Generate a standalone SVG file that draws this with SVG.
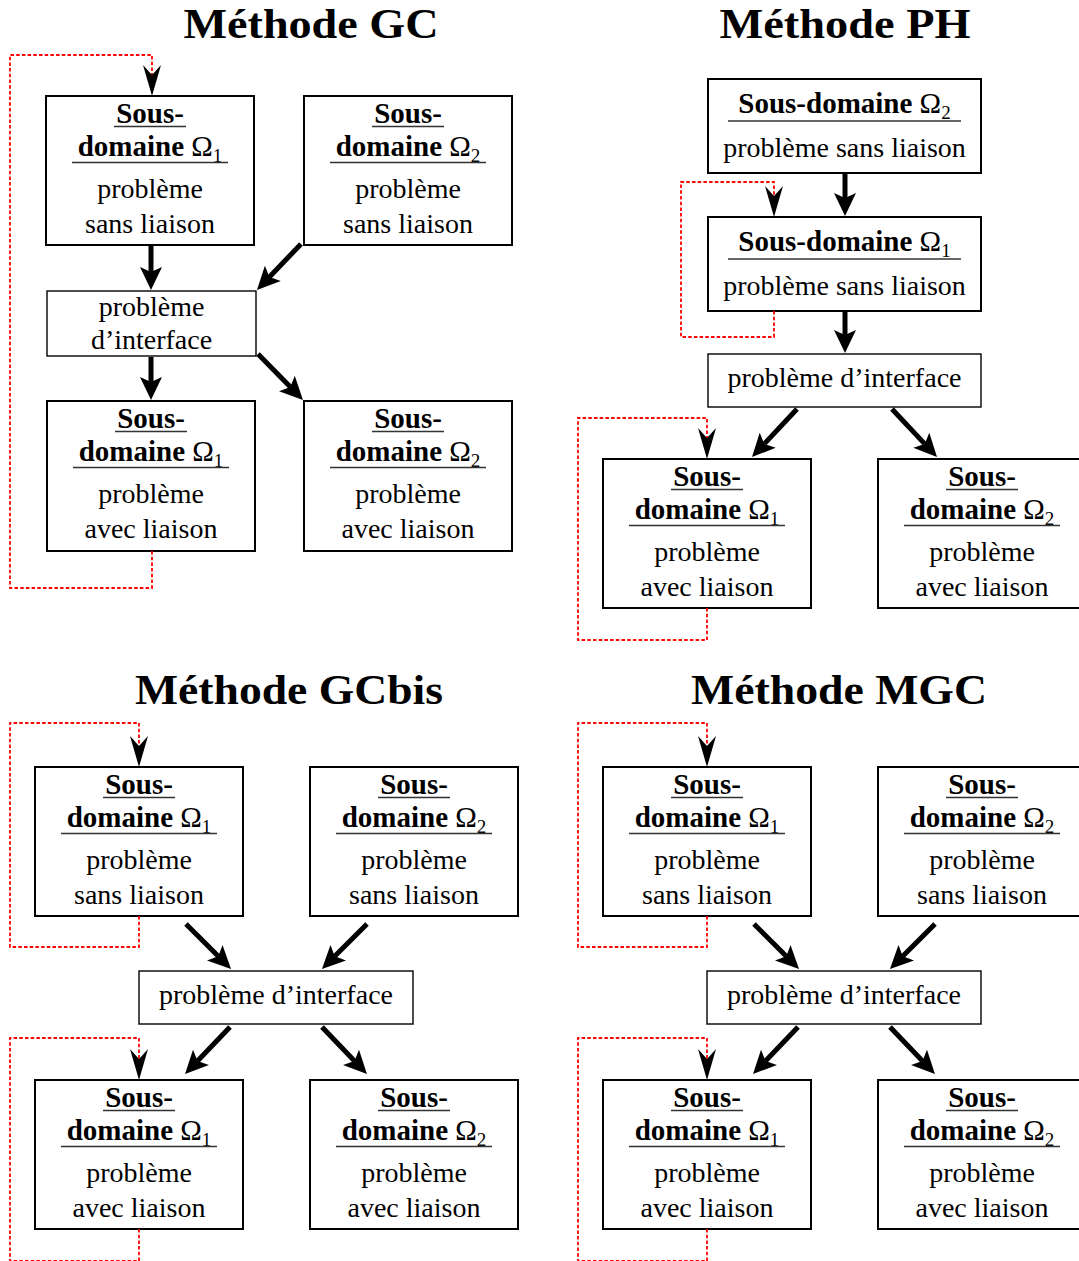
<svg xmlns="http://www.w3.org/2000/svg" width="1079" height="1261" viewBox="0 0 1079 1261">
<style>
.box{fill:#fff;stroke:#000;stroke-width:2}
.ifb{fill:#fff;stroke:#000;stroke-width:1.4}
.ul{stroke:#333;stroke-width:1.3}
.t{font-family:"Liberation Serif",serif;font-weight:bold;font-size:42px;text-anchor:middle}
.b{font-family:"Liberation Serif",serif;font-weight:bold;font-size:29px;text-anchor:middle}
.r{font-family:"Liberation Serif",serif;font-size:28px;text-anchor:middle}
.m{font-weight:normal}
.s{font-weight:normal;font-size:19px}
.arr{stroke:#000;stroke-width:5;fill:none;marker-end:url(#ah)}
.loop{stroke:#f00;stroke-width:1.8;stroke-dasharray:3.5 2.2;fill:none;marker-end:url(#sh)}
</style>
<defs>
<marker id="ah" markerUnits="userSpaceOnUse" orient="auto" refX="0" refY="0" markerWidth="40" markerHeight="40" overflow="visible">
<path d="M18,0 L-5,-11 L0,0 L-5,11 Z" fill="#000" stroke="none"/>
</marker>
<marker id="sh" markerUnits="userSpaceOnUse" orient="auto" refX="0" refY="0" markerWidth="40" markerHeight="40" overflow="visible">
<path d="M21,0 L-10,-9 L0,0 L-10,9 Z" fill="#000" stroke="none"/>
</marker>
</defs>
<rect width="1079" height="1261" fill="#fff"/>

<!-- Titles -->
<g id="titles">
<text class="t" x="311" y="38" textLength="255" lengthAdjust="spacingAndGlyphs">Méthode GC</text>
<text class="t" x="845" y="38" textLength="251" lengthAdjust="spacingAndGlyphs">Méthode PH</text>
<text class="t" x="289" y="704" textLength="308" lengthAdjust="spacingAndGlyphs">Méthode GCbis</text>
<text class="t" x="839" y="704" textLength="296" lengthAdjust="spacingAndGlyphs">Méthode MGC</text>
</g>

<!-- ===== Méthode GC ===== -->
<g id="gc-sd1-sans">
<rect class="box" x="46" y="96" width="208" height="149"/>
<text class="b" x="150" y="123">Sous-</text>
<line class="ul" x1="114" y1="126.5" x2="186" y2="126.5"/>
<text class="b" x="150" y="156">domaine <tspan class="m">Ω</tspan><tspan class="s" dy="6">1</tspan></text>
<line class="ul" x1="72" y1="162.5" x2="228" y2="162.5"/>
<text class="r" x="150" y="198">problème</text>
<text class="r" x="150" y="233">sans liaison</text>
</g>
<g id="gc-sd2-sans">
<rect class="box" x="304" y="96" width="208" height="149"/>
<text class="b" x="408" y="123">Sous-</text>
<line class="ul" x1="372" y1="126.5" x2="444" y2="126.5"/>
<text class="b" x="408" y="156">domaine <tspan class="m">Ω</tspan><tspan class="s" dy="6">2</tspan></text>
<line class="ul" x1="330" y1="162.5" x2="486" y2="162.5"/>
<text class="r" x="408" y="198">problème</text>
<text class="r" x="408" y="233">sans liaison</text>
</g>
<g id="gc-interface">
<rect class="ifb" x="47" y="291" width="209" height="65"/>
<text class="r" x="151.5" y="316">problème</text>
<text class="r" x="151.5" y="349">d’interface</text>
</g>
<g id="gc-sd1-avec">
<rect class="box" x="47" y="401" width="208" height="150"/>
<text class="b" x="151" y="428">Sous-</text>
<line class="ul" x1="115" y1="431.5" x2="187" y2="431.5"/>
<text class="b" x="151" y="461">domaine <tspan class="m">Ω</tspan><tspan class="s" dy="6">1</tspan></text>
<line class="ul" x1="73" y1="467.5" x2="229" y2="467.5"/>
<text class="r" x="151" y="503">problème</text>
<text class="r" x="151" y="538">avec liaison</text>
</g>
<g id="gc-sd2-avec">
<rect class="box" x="304" y="401" width="208" height="150"/>
<text class="b" x="408" y="428">Sous-</text>
<line class="ul" x1="372" y1="431.5" x2="444" y2="431.5"/>
<text class="b" x="408" y="461">domaine <tspan class="m">Ω</tspan><tspan class="s" dy="6">2</tspan></text>
<line class="ul" x1="330" y1="467.5" x2="486" y2="467.5"/>
<text class="r" x="408" y="503">problème</text>
<text class="r" x="408" y="538">avec liaison</text>
</g>

<!-- ===== Méthode PH ===== -->
<g id="ph-sd2-sans">
<rect class="box" x="708" y="79" width="273" height="94"/>
<text class="b" x="844.5" y="113">Sous-domaine <tspan class="m">Ω</tspan><tspan class="s" dy="6">2</tspan></text>
<line class="ul" x1="728" y1="121" x2="961" y2="121"/>
<text class="r" x="844.5" y="157">problème sans liaison</text>
</g>
<g id="ph-sd1-sans">
<rect class="box" x="708" y="217" width="273" height="94"/>
<text class="b" x="844.5" y="251">Sous-domaine <tspan class="m">Ω</tspan><tspan class="s" dy="6">1</tspan></text>
<line class="ul" x1="728" y1="259" x2="961" y2="259"/>
<text class="r" x="844.5" y="295">problème sans liaison</text>
</g>
<g id="ph-interface">
<rect class="ifb" x="708" y="354" width="273" height="53"/>
<text class="r" x="844.5" y="387">problème d’interface</text>
</g>
<g id="ph-sd1-avec">
<rect class="box" x="603" y="459" width="208" height="149"/>
<text class="b" x="707" y="486">Sous-</text>
<line class="ul" x1="671" y1="489.5" x2="743" y2="489.5"/>
<text class="b" x="707" y="519">domaine <tspan class="m">Ω</tspan><tspan class="s" dy="6">1</tspan></text>
<line class="ul" x1="629" y1="525.5" x2="785" y2="525.5"/>
<text class="r" x="707" y="561">problème</text>
<text class="r" x="707" y="596">avec liaison</text>
</g>
<g id="ph-sd2-avec">
<rect class="box" x="878" y="459" width="208" height="149"/>
<text class="b" x="982" y="486">Sous-</text>
<line class="ul" x1="946" y1="489.5" x2="1018" y2="489.5"/>
<text class="b" x="982" y="519">domaine <tspan class="m">Ω</tspan><tspan class="s" dy="6">2</tspan></text>
<line class="ul" x1="904" y1="525.5" x2="1060" y2="525.5"/>
<text class="r" x="982" y="561">problème</text>
<text class="r" x="982" y="596">avec liaison</text>
</g>

<!-- ===== Méthode GCbis ===== -->
<g id="gcbis-sd1-sans">
<rect class="box" x="35" y="767" width="208" height="149"/>
<text class="b" x="139" y="794">Sous-</text>
<line class="ul" x1="103" y1="797.5" x2="175" y2="797.5"/>
<text class="b" x="139" y="827">domaine <tspan class="m">Ω</tspan><tspan class="s" dy="6">1</tspan></text>
<line class="ul" x1="61" y1="833.5" x2="217" y2="833.5"/>
<text class="r" x="139" y="869">problème</text>
<text class="r" x="139" y="904">sans liaison</text>
</g>
<g id="gcbis-sd2-sans">
<rect class="box" x="310" y="767" width="208" height="149"/>
<text class="b" x="414" y="794">Sous-</text>
<line class="ul" x1="378" y1="797.5" x2="450" y2="797.5"/>
<text class="b" x="414" y="827">domaine <tspan class="m">Ω</tspan><tspan class="s" dy="6">2</tspan></text>
<line class="ul" x1="336" y1="833.5" x2="492" y2="833.5"/>
<text class="r" x="414" y="869">problème</text>
<text class="r" x="414" y="904">sans liaison</text>
</g>
<g id="gcbis-interface">
<rect class="ifb" x="139" y="971" width="274" height="53"/>
<text class="r" x="276" y="1004">problème d’interface</text>
</g>
<g id="gcbis-sd1-avec">
<rect class="box" x="35" y="1080" width="208" height="149"/>
<text class="b" x="139" y="1107">Sous-</text>
<line class="ul" x1="103" y1="1110.5" x2="175" y2="1110.5"/>
<text class="b" x="139" y="1140">domaine <tspan class="m">Ω</tspan><tspan class="s" dy="6">1</tspan></text>
<line class="ul" x1="61" y1="1146.5" x2="217" y2="1146.5"/>
<text class="r" x="139" y="1182">problème</text>
<text class="r" x="139" y="1217">avec liaison</text>
</g>
<g id="gcbis-sd2-avec">
<rect class="box" x="310" y="1080" width="208" height="149"/>
<text class="b" x="414" y="1107">Sous-</text>
<line class="ul" x1="378" y1="1110.5" x2="450" y2="1110.5"/>
<text class="b" x="414" y="1140">domaine <tspan class="m">Ω</tspan><tspan class="s" dy="6">2</tspan></text>
<line class="ul" x1="336" y1="1146.5" x2="492" y2="1146.5"/>
<text class="r" x="414" y="1182">problème</text>
<text class="r" x="414" y="1217">avec liaison</text>
</g>

<!-- ===== Méthode MGC ===== -->
<g id="mgc-sd1-sans">
<rect class="box" x="603" y="767" width="208" height="149"/>
<text class="b" x="707" y="794">Sous-</text>
<line class="ul" x1="671" y1="797.5" x2="743" y2="797.5"/>
<text class="b" x="707" y="827">domaine <tspan class="m">Ω</tspan><tspan class="s" dy="6">1</tspan></text>
<line class="ul" x1="629" y1="833.5" x2="785" y2="833.5"/>
<text class="r" x="707" y="869">problème</text>
<text class="r" x="707" y="904">sans liaison</text>
</g>
<g id="mgc-sd2-sans">
<rect class="box" x="878" y="767" width="208" height="149"/>
<text class="b" x="982" y="794">Sous-</text>
<line class="ul" x1="946" y1="797.5" x2="1018" y2="797.5"/>
<text class="b" x="982" y="827">domaine <tspan class="m">Ω</tspan><tspan class="s" dy="6">2</tspan></text>
<line class="ul" x1="904" y1="833.5" x2="1060" y2="833.5"/>
<text class="r" x="982" y="869">problème</text>
<text class="r" x="982" y="904">sans liaison</text>
</g>
<g id="mgc-interface">
<rect class="ifb" x="707" y="971" width="274" height="53"/>
<text class="r" x="844" y="1004">problème d’interface</text>
</g>
<g id="mgc-sd1-avec">
<rect class="box" x="603" y="1080" width="208" height="149"/>
<text class="b" x="707" y="1107">Sous-</text>
<line class="ul" x1="671" y1="1110.5" x2="743" y2="1110.5"/>
<text class="b" x="707" y="1140">domaine <tspan class="m">Ω</tspan><tspan class="s" dy="6">1</tspan></text>
<line class="ul" x1="629" y1="1146.5" x2="785" y2="1146.5"/>
<text class="r" x="707" y="1182">problème</text>
<text class="r" x="707" y="1217">avec liaison</text>
</g>
<g id="mgc-sd2-avec">
<rect class="box" x="878" y="1080" width="208" height="149"/>
<text class="b" x="982" y="1107">Sous-</text>
<line class="ul" x1="946" y1="1110.5" x2="1018" y2="1110.5"/>
<text class="b" x="982" y="1140">domaine <tspan class="m">Ω</tspan><tspan class="s" dy="6">2</tspan></text>
<line class="ul" x1="904" y1="1146.5" x2="1060" y2="1146.5"/>
<text class="r" x="982" y="1182">problème</text>
<text class="r" x="982" y="1217">avec liaison</text>
</g>

<!-- ===== Connectors ===== -->
<g id="connectors">
<!-- GC -->
<line class="arr" x1="151" y1="246" x2="151" y2="272"/>
<line class="arr" x1="301" y1="244" x2="269.4" y2="277"/>
<line class="arr" x1="151" y1="357" x2="151" y2="382"/>
<line class="arr" x1="258" y1="354" x2="290.4" y2="387.1"/>
<path class="loop" d="M152,551 V588 H10 V55 H152 V75"/>
<!-- PH -->
<line class="arr" x1="845" y1="174" x2="845" y2="198"/>
<line class="arr" x1="845" y1="312" x2="845" y2="335"/>
<line class="arr" x1="797" y1="409" x2="764.3" y2="443.9"/>
<line class="arr" x1="892" y1="409" x2="924.7" y2="443.9"/>
<path class="loop" d="M774,311 V337 H681 V182 H774 V196"/>
<path class="loop" d="M707,608 V640 H578 V418 H707 V438"/>
<!-- GCbis -->
<line class="arr" x1="186" y1="924" x2="218.3" y2="956.3"/>
<line class="arr" x1="367" y1="924" x2="334.7" y2="956.3"/>
<line class="arr" x1="230" y1="1027" x2="197.5" y2="1061"/>
<line class="arr" x1="322" y1="1027" x2="354.5" y2="1061"/>
<path class="loop" d="M139,916 V947 H10 V723 H139 V746"/>
<path class="loop" d="M139,1229 V1261 H10 V1038 H139 V1059"/>
<!-- MGC -->
<line class="arr" x1="754" y1="924" x2="786.3" y2="956.3"/>
<line class="arr" x1="935" y1="924" x2="902.7" y2="956.3"/>
<line class="arr" x1="798" y1="1027" x2="765.5" y2="1061"/>
<line class="arr" x1="890" y1="1027" x2="922.5" y2="1061"/>
<path class="loop" d="M707,916 V947 H578 V723 H707 V746"/>
<path class="loop" d="M707,1229 V1261 H578 V1038 H707 V1059"/>
</g>
</svg>
